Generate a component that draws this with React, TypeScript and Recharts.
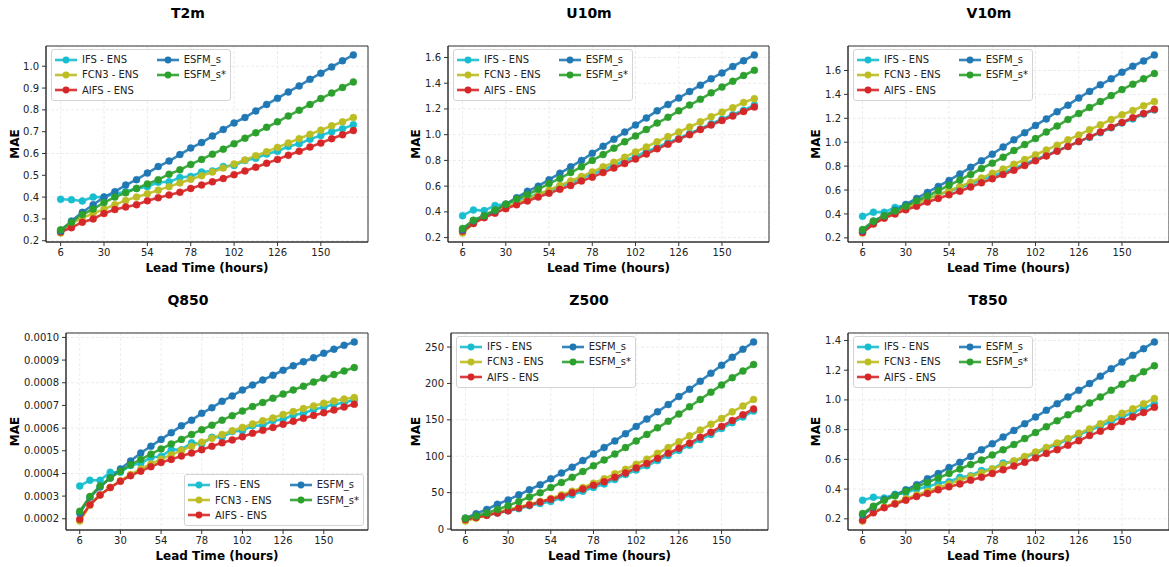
import { LineChart, Line, XAxis, YAxis, CartesianGrid, Legend, ReferenceArea } from 'recharts';

const leadTimes = [6, 12, 18, 24, 30, 36, 42, 48, 54, 60, 66, 72, 78, 84, 90, 96, 102, 108, 114, 120, 126, 132, 138, 144, 150, 156, 162, 168];
const xTicks = [6, 30, 54, 78, 102, 126, 150];
const seriesNames = ['IFS - ENS', 'FCN3 - ENS', 'AIFS - ENS', 'ESFM_s', 'ESFM_s*'];
const seriesColors = ['#17becf', '#bcbd22', '#d62728', '#1f77b4', '#2ca02c'];

// T2m
const t2mIfs = [0.390, 0.388, 0.382, 0.400, 0.400, 0.415, 0.425, 0.440, 0.448, 0.468, 0.470, 0.490, 0.495, 0.515, 0.520, 0.540, 0.545, 0.568, 0.578, 0.598, 0.610, 0.632, 0.645, 0.665, 0.683, 0.700, 0.713, 0.732];
const t2mFcn3 = [0.235, 0.280, 0.305, 0.325, 0.345, 0.365, 0.385, 0.400, 0.415, 0.432, 0.448, 0.465, 0.482, 0.498, 0.515, 0.533, 0.552, 0.570, 0.590, 0.608, 0.628, 0.648, 0.668, 0.688, 0.707, 0.727, 0.745, 0.765];
const t2mAifs = [0.240, 0.260, 0.285, 0.300, 0.325, 0.343, 0.355, 0.365, 0.383, 0.397, 0.410, 0.422, 0.440, 0.455, 0.470, 0.485, 0.503, 0.520, 0.537, 0.555, 0.573, 0.592, 0.610, 0.630, 0.648, 0.668, 0.686, 0.705];
const t2mEsfm = [0.245, 0.290, 0.330, 0.365, 0.400, 0.425, 0.455, 0.480, 0.510, 0.540, 0.565, 0.595, 0.625, 0.650, 0.680, 0.710, 0.740, 0.765, 0.795, 0.825, 0.853, 0.882, 0.910, 0.940, 0.968, 0.997, 1.025, 1.052];
const t2mEsfmStar = [0.250, 0.285, 0.320, 0.345, 0.375, 0.400, 0.420, 0.440, 0.460, 0.480, 0.505, 0.525, 0.550, 0.573, 0.597, 0.620, 0.645, 0.670, 0.695, 0.720, 0.745, 0.772, 0.798, 0.825, 0.852, 0.877, 0.903, 0.928];

// U10m
const u10Ifs = [0.370, 0.415, 0.410, 0.450, 0.460, 0.490, 0.510, 0.540, 0.560, 0.600, 0.625, 0.665, 0.690, 0.730, 0.760, 0.800, 0.830, 0.870, 0.900, 0.940, 0.970, 1.010, 1.045, 1.085, 1.120, 1.155, 1.190, 1.230];
const u10Fcn3 = [0.235, 0.310, 0.360, 0.400, 0.435, 0.470, 0.500, 0.535, 0.570, 0.605, 0.640, 0.675, 0.710, 0.750, 0.785, 0.825, 0.865, 0.905, 0.945, 0.985, 1.020, 1.060, 1.100, 1.140, 1.175, 1.210, 1.250, 1.280];
const u10Aifs = [0.250, 0.310, 0.355, 0.390, 0.425, 0.455, 0.485, 0.515, 0.545, 0.575, 0.605, 0.640, 0.670, 0.705, 0.740, 0.775, 0.810, 0.850, 0.890, 0.925, 0.965, 1.000, 1.040, 1.075, 1.110, 1.145, 1.180, 1.215];
const u10Esfm = [0.260, 0.330, 0.370, 0.410, 0.460, 0.510, 0.560, 0.600, 0.650, 0.700, 0.750, 0.800, 0.855, 0.910, 0.965, 1.020, 1.075, 1.130, 1.185, 1.235, 1.285, 1.335, 1.385, 1.435, 1.480, 1.530, 1.575, 1.620];
const u10EsfmStar = [0.270, 0.335, 0.370, 0.415, 0.460, 0.500, 0.535, 0.575, 0.620, 0.660, 0.705, 0.750, 0.800, 0.845, 0.895, 0.945, 0.990, 1.040, 1.090, 1.135, 1.185, 1.230, 1.275, 1.325, 1.370, 1.415, 1.460, 1.500];

// V10m
const v10Ifs = [0.380, 0.415, 0.415, 0.455, 0.475, 0.505, 0.530, 0.560, 0.590, 0.620, 0.650, 0.685, 0.715, 0.750, 0.780, 0.820, 0.855, 0.890, 0.930, 0.965, 1.005, 1.040, 1.080, 1.120, 1.160, 1.195, 1.235, 1.270];
const v10Fcn3 = [0.240, 0.320, 0.370, 0.410, 0.450, 0.490, 0.525, 0.560, 0.595, 0.630, 0.665, 0.700, 0.740, 0.775, 0.815, 0.855, 0.895, 0.935, 0.975, 1.020, 1.060, 1.105, 1.145, 1.190, 1.230, 1.265, 1.305, 1.340];
const v10Aifs = [0.245, 0.315, 0.365, 0.400, 0.435, 0.465, 0.500, 0.530, 0.560, 0.590, 0.625, 0.660, 0.695, 0.730, 0.765, 0.805, 0.845, 0.885, 0.925, 0.965, 1.005, 1.045, 1.085, 1.125, 1.165, 1.205, 1.240, 1.275];
const v10Esfm = [0.260, 0.340, 0.385, 0.430, 0.480, 0.530, 0.580, 0.630, 0.680, 0.735, 0.790, 0.845, 0.900, 0.960, 1.020, 1.080, 1.140, 1.195, 1.255, 1.310, 1.370, 1.425, 1.480, 1.530, 1.585, 1.635, 1.680, 1.730];
const v10EsfmStar = [0.270, 0.340, 0.385, 0.425, 0.465, 0.510, 0.550, 0.595, 0.640, 0.685, 0.730, 0.780, 0.825, 0.875, 0.930, 0.980, 1.030, 1.085, 1.135, 1.190, 1.240, 1.290, 1.340, 1.390, 1.440, 1.485, 1.530, 1.575];

// Q850
const q850Ifs = [0.000345, 0.000370, 0.000370, 0.000405, 0.000405, 0.000435, 0.000445, 0.000470, 0.000475, 0.000505, 0.000505, 0.000535, 0.000530, 0.000560, 0.000560, 0.000585, 0.000588, 0.000610, 0.000612, 0.000633, 0.000638, 0.000658, 0.000665, 0.000682, 0.000692, 0.000705, 0.000712, 0.000725];
const q850Fcn3 = [0.000190, 0.000260, 0.000305, 0.000338, 0.000368, 0.000395, 0.000420, 0.000442, 0.000463, 0.000482, 0.000502, 0.000520, 0.000538, 0.000555, 0.000572, 0.000588, 0.000603, 0.000618, 0.000632, 0.000645, 0.000660, 0.000673, 0.000686, 0.000698, 0.000710, 0.000720, 0.000728, 0.000735];
const q850Aifs = [0.000198, 0.000262, 0.000305, 0.000338, 0.000365, 0.000390, 0.000410, 0.000430, 0.000448, 0.000462, 0.000477, 0.000490, 0.000505, 0.000520, 0.000535, 0.000548, 0.000562, 0.000577, 0.000590, 0.000603, 0.000617, 0.000630, 0.000643, 0.000656, 0.000668, 0.000680, 0.000693, 0.000705];
const q850Esfm = [0.000225, 0.000295, 0.000340, 0.000380, 0.000420, 0.000455, 0.000490, 0.000520, 0.000550, 0.000580, 0.000610, 0.000635, 0.000665, 0.000690, 0.000718, 0.000742, 0.000768, 0.000790, 0.000812, 0.000833, 0.000855, 0.000875, 0.000893, 0.000910, 0.000930, 0.000948, 0.000965, 0.000980];
const q850EsfmStar = [0.000233, 0.000298, 0.000345, 0.000380, 0.000410, 0.000438, 0.000462, 0.000485, 0.000508, 0.000530, 0.000550, 0.000572, 0.000593, 0.000613, 0.000635, 0.000655, 0.000675, 0.000695, 0.000713, 0.000732, 0.000750, 0.000768, 0.000785, 0.000803, 0.000820, 0.000836, 0.000852, 0.000867];

// Z500
const z500Ifs = [14, 16, 19, 22, 25, 28, 32, 35, 38, 43, 47, 52, 57, 62, 68, 75, 81, 87, 94, 101, 108, 115, 123, 130, 138, 146, 154, 162];
const z500Fcn3 = [11, 15, 19, 23, 27, 30, 34, 38, 42, 47, 52, 57, 63, 69, 76, 82, 89, 96, 104, 112, 120, 128, 136, 144, 152, 161, 169, 178];
const z500Aifs = [13, 16, 19, 22, 25, 29, 33, 37, 41, 45, 50, 55, 60, 65, 71, 77, 84, 90, 97, 104, 111, 118, 126, 133, 141, 149, 157, 165];
const z500Esfm = [15, 21, 27, 34, 40, 47, 54, 61, 69, 77, 85, 94, 103, 112, 121, 131, 141, 151, 161, 171, 182, 192, 203, 214, 225, 236, 247, 257];
const z500EsfmStar = [15, 18, 22, 27, 32, 38, 44, 50, 57, 64, 71, 79, 87, 95, 103, 112, 121, 130, 139, 148, 158, 168, 178, 188, 198, 208, 217, 226];

// T850
const t850Ifs = [0.325, 0.345, 0.340, 0.365, 0.375, 0.400, 0.415, 0.440, 0.450, 0.480, 0.490, 0.525, 0.535, 0.575, 0.585, 0.615, 0.640, 0.675, 0.700, 0.735, 0.765, 0.795, 0.825, 0.855, 0.885, 0.915, 0.945, 0.975];
const t850Fcn3 = [0.185, 0.245, 0.280, 0.305, 0.335, 0.360, 0.385, 0.410, 0.435, 0.460, 0.485, 0.510, 0.535, 0.565, 0.590, 0.620, 0.650, 0.680, 0.710, 0.740, 0.775, 0.805, 0.840, 0.875, 0.910, 0.940, 0.975, 1.010];
const t850Aifs = [0.190, 0.240, 0.275, 0.300, 0.325, 0.350, 0.370, 0.395, 0.415, 0.435, 0.460, 0.480, 0.505, 0.530, 0.555, 0.580, 0.610, 0.640, 0.665, 0.695, 0.725, 0.760, 0.790, 0.820, 0.855, 0.885, 0.915, 0.950];
const t850Esfm = [0.225, 0.280, 0.330, 0.360, 0.395, 0.430, 0.470, 0.505, 0.545, 0.580, 0.620, 0.665, 0.705, 0.750, 0.795, 0.840, 0.885, 0.930, 0.975, 1.020, 1.065, 1.110, 1.160, 1.210, 1.255, 1.300, 1.345, 1.390];
const t850EsfmStar = [0.235, 0.285, 0.325, 0.355, 0.385, 0.415, 0.445, 0.475, 0.505, 0.535, 0.565, 0.595, 0.630, 0.665, 0.700, 0.740, 0.780, 0.820, 0.860, 0.900, 0.940, 0.980, 1.020, 1.065, 1.105, 1.145, 1.190, 1.230];

const t2mTicks = [0.2, 0.3, 0.4, 0.5, 0.6, 0.7, 0.8, 0.9, 1.0];
const windTicks = [0.2, 0.4, 0.6, 0.8, 1.0, 1.2, 1.4, 1.6];
const q850Ticks = [0.0002, 0.0003, 0.0004, 0.0005, 0.0006, 0.0007, 0.0008, 0.0009, 0.0010];
const z500Ticks = [0, 50, 100, 150, 200, 250];
const t850Ticks = [0.2, 0.4, 0.6, 0.8, 1.0, 1.2, 1.4];

const FONT = '"DejaVu Sans", sans-serif';

type Box = { x: number; y: number; w: number; h: number };
type Panel = {
  title: string;
  series: number[][];
  yTicks: number[];
  digits: number;
  box: Box;
  titleX: number;
  titleY: number;
  labelX: number;
  legendAt: 'upper' | 'lower';
};

const panels: Panel[] = [
  { title: 'T2m', series: [t2mIfs, t2mFcn3, t2mAifs, t2mEsfm, t2mEsfmStar], yTicks: t2mTicks, digits: 1,
    box: { x: 46, y: 46, w: 322, h: 196 }, titleX: 188, titleY: 13, labelX: 15, legendAt: 'upper' },
  { title: 'U10m', series: [u10Ifs, u10Fcn3, u10Aifs, u10Esfm, u10EsfmStar], yTicks: windTicks, digits: 1,
    box: { x: 448, y: 46, w: 321, h: 196 }, titleX: 589, titleY: 13, labelX: 416, legendAt: 'upper' },
  { title: 'V10m', series: [v10Ifs, v10Fcn3, v10Aifs, v10Esfm, v10EsfmStar], yTicks: windTicks, digits: 1,
    box: { x: 848, y: 46, w: 321, h: 196 }, titleX: 989, titleY: 13, labelX: 816, legendAt: 'upper' },
  { title: 'Q850', series: [q850Ifs, q850Fcn3, q850Aifs, q850Esfm, q850EsfmStar], yTicks: q850Ticks, digits: 4,
    box: { x: 66, y: 333, w: 302, h: 197 }, titleX: 188, titleY: 300, labelX: 15, legendAt: 'lower' },
  { title: 'Z500', series: [z500Ifs, z500Fcn3, z500Aifs, z500Esfm, z500EsfmStar], yTicks: z500Ticks, digits: 0,
    box: { x: 451, y: 333, w: 317, h: 197 }, titleX: 589, titleY: 300, labelX: 416, legendAt: 'upper' },
  { title: 'T850', series: [t850Ifs, t850Fcn3, t850Aifs, t850Esfm, t850EsfmStar], yTicks: t850Ticks, digits: 1,
    box: { x: 848, y: 333, w: 321, h: 197 }, titleX: 988, titleY: 300, labelX: 816, legendAt: 'upper' },
];

const xDomain = [-2.1, 176.1];

function Handle({ color }: { color: string }) {
  return (
    <svg width={22} height={8} style={{ display: 'block' }}>
      <line x1={0} y1={4} x2={22} y2={4} stroke={color} strokeWidth={2.6} strokeOpacity={0.9} />
      <circle cx={11} cy={4} r={3.4} fill={color} />
    </svg>
  );
}

function LegendBox() {
  const cols = [[0, 1, 2], [3, 4]];
  return (
    <div style={{
      display: 'flex', gap: 18, padding: '2px 4px 2px 3px', border: '1px solid #d4d4d4', borderRadius: 3,
      background: 'rgba(255,255,255,0.85)', fontFamily: FONT, fontSize: 10, color: '#222',
    }}>
      {cols.map((col, ci) => (
        <div key={ci}>
          {col.map((i) => (
            <div key={i} style={{ display: 'flex', alignItems: 'center', height: 15.3, gap: 5 }}>
              <Handle color={seriesColors[i]} />
              <span>{seriesNames[i]}</span>
            </div>
          ))}
        </div>
      ))}
    </div>
  );
}

const TOP = 6;
const RIGHT = 6;
const XH = 36;

function MaePanel({ p }: { p: Panel }) {
  const rows = leadTimes.map((t, i) => {
    const r: Record<string, number> = { lead: t };
    p.series.forEach((s, k) => { r['s' + k] = s[i]; });
    return r;
  });
  const all = p.series.flat();
  const lo = Math.min(...all);
  const hi = Math.max(...all);
  const pad = (hi - lo) * 0.05;
  const yDomain = [lo - pad, hi + pad];

  const left = Math.max(0, p.box.x - 72);
  const yw = p.box.x - left;
  const width = yw + p.box.w + RIGHT;
  const height = TOP + p.box.h + XH;

  const legendStyle = p.legendAt === 'upper'
    ? { left: yw + 5, top: TOP + 3, width: 'auto' }
    : { right: RIGHT + 4, bottom: XH + 4, width: 'auto' };

  const tickStyle = { fontSize: 10, fill: '#222', fontFamily: FONT };
  const labelStyle = { fontSize: 12, fontWeight: 'bold', fill: '#000', fontFamily: FONT, textAnchor: 'middle' as const };

  return (
    <>
      <div style={{
        position: 'absolute', left: p.titleX - 60, width: 120, top: p.titleY - 9, textAlign: 'center',
        fontFamily: FONT, fontWeight: 'bold', fontSize: 14, lineHeight: '18px', color: '#000',
      }}>{p.title}</div>
      <div style={{ position: 'absolute', left, top: p.box.y - TOP }}>
        <LineChart width={width} height={height} data={rows} margin={{ top: TOP, right: RIGHT, bottom: 0, left: 0 }}>
          <CartesianGrid stroke="#ececec" strokeDasharray="3 2" />
          <XAxis dataKey="lead" type="number" domain={xDomain} ticks={xTicks} allowDataOverflow
            height={XH} tickSize={4} tickMargin={3} tick={tickStyle} stroke="#333"
            label={{ value: 'Lead Time (hours)', position: 'insideBottom', offset: 6, style: labelStyle }} />
          <YAxis type="number" domain={yDomain} ticks={p.yTicks} allowDataOverflow width={yw}
            tickSize={4} tickMargin={3} tick={tickStyle} stroke="#333"
            tickFormatter={(v: number) => v.toFixed(p.digits)}
            label={{ value: 'MAE', angle: -90, position: 'insideLeft', offset: p.labelX - left, style: labelStyle }} />
          <ReferenceArea x1={xDomain[0]} x2={xDomain[1]} y1={yDomain[0]} y2={yDomain[1]}
            fill="none" stroke="#333" strokeWidth={1} ifOverflow="visible" />
          <Legend layout="vertical" align="center" verticalAlign="middle" wrapperStyle={legendStyle}
            content={() => <LegendBox />} />
          {p.series.map((_, k) => (
            <Line key={k} type="linear" dataKey={'s' + k} name={seriesNames[k]} stroke={seriesColors[k]}
              strokeWidth={2.6} strokeOpacity={0.9}
              dot={{ r: 3.5, fill: seriesColors[k], stroke: seriesColors[k], strokeWidth: 0.5 }}
              activeDot={false} isAnimationActive={false} />
          ))}
        </LineChart>
      </div>
    </>
  );
}

export default function App() {
  return (
    <div style={{ position: 'absolute', left: 0, top: 0, width: 1169, height: 567, overflow: 'hidden', background: '#fff' }}>
      {panels.map((p) => <MaePanel key={p.title} p={p} />)}
    </div>
  );
}
